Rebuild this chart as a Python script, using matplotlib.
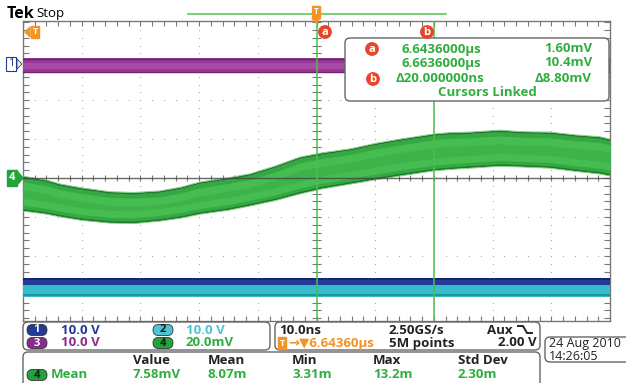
#!/usr/bin/env python3
import numpy as np
import matplotlib
matplotlib.use("Agg")
import matplotlib.pyplot as plt
from matplotlib.patches import FancyBboxPatch, Circle, Polygon
from matplotlib.collections import LineCollection

plt.rcParams['font.family'] = ['Open Sans', 'DejaVu Sans']

# channel 4 band, time in divisions, upper/lower edge in divisions
ch4_t = [-5.0, -4.6, -4.37, -4.0, -3.52, -3.1, -2.67, -2.3, -1.98, -1.5, -1.13, -0.7,
         -0.28, 0.1, 0.57, 1.0, 1.42, 1.99, 2.3, 2.61, 3.13, 3.5, 3.98, 4.4, 4.83, 5.0]
ch4_hi = [0.02, -0.08, -0.18, -0.28, -0.38, -0.40, -0.36, -0.26, -0.13, -0.02, 0.08, 0.28,
          0.51, 0.62, 0.72, 0.86, 0.97, 1.10, 1.14, 1.15, 1.20, 1.16, 1.15, 1.08, 1.03, 0.97]
ch4_lo = [-0.82, -0.90, -0.97, -1.06, -1.13, -1.14, -1.08, -1.00, -0.90, -0.80, -0.69, -0.55,
          -0.38, -0.25, -0.13, -0.02, 0.08, 0.21, 0.25, 0.28, 0.33, 0.31, 0.28, 0.20, 0.13, 0.08]

# flat channels: (lower, upper) in divisions
ch1_band = (2.69, 3.08)
ch_navy_band = (-2.74, -2.56)
ch_cyan_band = (-3.05, -2.74)

cursor_a = 0.0
cursor_b = 2.0

cursor_rows = [("6.6436000µs", "1.60mV"), ("6.6636000µs", "10.4mV"),
               ("Δ20.000000ns", "Δ8.80mV")]
meas_heads = ["Value", "Mean", "Min", "Max", "Std Dev"]
meas_vals = ["7.58mV", "8.07m", "3.31m", "13.2m", "2.30m"]
meas_x = [133, 208, 292, 373, 458]

GREEN = "#22a33c"
TXTGREEN = "#2fae3f"
ORANGE = "#f39323"
RED = "#e8452c"
NAVY = "#233a96"
CYAN = "#4fc3d6"
PURPLE = "#8c2b8f"
FS = 9.5


def graticule(ax):
    ax.set_xlim(-5, 5)
    ax.set_ylim(-3.67, 4.03)
    ax.set_xticks([])
    ax.set_yticks([])
    for s in ax.spines.values():
        s.set_color("#777777")
        s.set_linewidth(1.0)
    # dotted grid
    xs = np.arange(-5, 5.01, 0.2)
    ys = np.arange(-3.6, 4.01, 0.2)
    for gx in range(-4, 5):
        ax.scatter(np.full(len(ys), gx), ys, s=0.6, color="#9a9a9a", lw=0, zorder=1)
    for gy in range(-3, 4):
        ax.scatter(xs, np.full(len(xs), gy), s=0.6, color="#9a9a9a", lw=0, zorder=1)
    segs = []
    for x in xs:
        segs.append([(x, -0.08), (x, 0.08)])
        segs.append([(x, 4.03), (x, 3.9)])
        segs.append([(x, -3.67), (x, -3.54)])
    for y in ys:
        segs.append([(-0.07, y), (0.07, y)])
        segs.append([(-5, y), (-4.89, y)])
        segs.append([(5, y), (4.89, y)])
    ax.add_collection(LineCollection(segs, colors="#777777", linewidths=0.8, zorder=2))


def traces(ax):
    ax.fill_between([-5, 5], ch1_band[0], ch1_band[1], color="#963a96", lw=0, zorder=3)
    ax.fill_between([-5, 5], ch1_band[0] + 0.1, ch1_band[1] - 0.12, color="#a64aa6", lw=0, zorder=3)
    ax.plot([-5, 5], [ch1_band[1] - 0.03] * 2, color="#6e2270", lw=1.0, zorder=3)
    ax.plot([-5, 5], [ch1_band[0] + 0.03] * 2, color="#6e2270", lw=1.0, zorder=3)

    ax.fill_between([-5, 5], ch_navy_band[0], ch_navy_band[1], color=NAVY, lw=0, zorder=3)
    ax.fill_between([-5, 5], ch_cyan_band[0], ch_cyan_band[1], color="#35bccb", lw=0, zorder=3)
    ax.plot([-5, 5], [ch_cyan_band[0] + 0.04] * 2, color="#178a90", lw=1.1, zorder=3)
    ax.plot([-5, 5], [ch_navy_band[1] - 0.02] * 2, color="#14226b", lw=1.2, zorder=3)

    t = np.array(ch4_t)
    hi = np.array(ch4_hi)
    lo = np.array(ch4_lo)
    ax.fill_between(t, lo, hi, color="#35a844", lw=0, zorder=4)
    ax.fill_between(t, lo + 0.12, hi - 0.12, color="#46bd51", lw=0, zorder=4)
    ax.fill_between(t, lo + 0.3, hi - 0.32, color="#3db34a", lw=0, zorder=4)
    ax.plot(t, hi, color="#1f7a2e", lw=1.2, zorder=4)
    ax.plot(t, lo, color="#1f7a2e", lw=1.2, zorder=4)
    ax.plot(t, hi + 0.03, color="#7ccc7c", lw=0.6, zorder=4)
    ax.plot(t, lo - 0.03, color="#7ccc7c", lw=0.6, zorder=4)

    ax.axhline(0, color="#444444", lw=1.0, alpha=0.8, zorder=5)
    ax.axvline(cursor_a, color="#4cbf4c", lw=1.1, zorder=6)
    ax.axvline(cursor_b, color="#4cbf4c", lw=1.1, zorder=6)


def pill(ax, x, y, num, face, fg="white"):
    ax.add_patch(FancyBboxPatch((x - 10, y - 5.5), 20, 11,
                                boxstyle="round,pad=0,rounding_size=5.5",
                                fc=face, ec="#333333", lw=0.6, zorder=10))
    ax.text(x, y, num, ha="center", va="center", fontsize=8, fontweight="bold",
            color=fg, zorder=11)


def badge(ax, x, y, letter):
    ax.add_patch(Circle((x, y), 6.2, color=RED, zorder=10))
    ax.text(x, y + 0.5, letter, ha="center", va="center", fontsize=8, fontweight="bold",
            color="white", zorder=11)


def panel(ax, x0, y0, x1, y1):
    ax.add_patch(FancyBboxPatch((x0, y0), x1 - x0, y1 - y0,
                                boxstyle="round,pad=0,rounding_size=5",
                                fc="white", ec="#666666", lw=1.0, zorder=8))


def overlay(ax):
    ax.set_xlim(0, 626)
    ax.set_ylim(383, 0)
    ax.axis("off")

    ax.text(7, 14, "Tek", fontsize=11.5, fontweight="bold", color="black", va="center")
    ax.text(36, 14, "Stop", fontsize=9.5, color="black", va="center")
    ax.plot([188, 446], [14, 14], color="#5cc85c", lw=1.2)

    # trigger position marker
    ax.text(316, 12, "T", ha="center", va="center", fontsize=6, color="white", fontweight="bold",
            bbox=dict(boxstyle="square,pad=0.15", fc=ORANGE, ec=ORANGE), zorder=9)
    ax.add_patch(Polygon([(312, 18), (320, 18), (316, 23)], color=ORANGE, zorder=9))
    # trigger level marker
    ax.text(35, 32, "T", ha="center", va="center", fontsize=6.5, color="white", fontweight="bold",
            bbox=dict(boxstyle="square,pad=0.2", fc=ORANGE, ec=ORANGE), zorder=9)
    ax.add_patch(Polygon([(30, 27), (30, 37), (25, 32)], color=ORANGE, zorder=9))

    badge(ax, 325, 32, "a")
    badge(ax, 427, 32, "b")

    # channel markers
    ax.text(11, 64, "1", ha="center", va="center", fontsize=8, color=NAVY,
            bbox=dict(boxstyle="square,pad=0.15", fc="white", ec=NAVY, lw=0.8))
    ax.add_patch(Polygon([(17, 59), (17, 69), (22, 64)], fc="#fff6b0", ec=NAVY, lw=0.6))
    ax.text(12, 178, "4", ha="center", va="center", fontsize=8, color="white", fontweight="bold",
            bbox=dict(boxstyle="square,pad=0.2", fc=GREEN, ec=GREEN))
    ax.add_patch(Polygon([(18, 172), (18, 184), (23, 178)], color=GREEN))

    # cursor readout
    panel(ax, 345, 38, 609, 101)
    row_y = [49, 63, 79]
    for (left, right), y in zip(cursor_rows, row_y):
        xl = 396 if left.startswith("Δ") else 402
        ax.text(xl, y, left, fontsize=FS, fontweight="bold", color=TXTGREEN, va="center", zorder=9)
        ax.text(592, y, right, fontsize=FS, fontweight="bold", color=TXTGREEN, va="center",
                ha="right", zorder=9)
    badge(ax, 372, 49, "a")
    badge(ax, 373, 79, "b")
    ax.text(487, 93, "Cursors Linked", fontsize=FS, fontweight="bold", color=TXTGREEN,
            va="center", ha="center", zorder=9)

    # channel scale panel
    panel(ax, 23, 322, 270, 350)
    pill(ax, 37, 330, "1", NAVY)
    pill(ax, 37, 343, "3", PURPLE)
    pill(ax, 163, 330, "2", CYAN, fg="#1a1a1a")
    pill(ax, 163, 343, "4", GREEN, fg="#1a1a1a")
    kw = dict(fontsize=FS, fontweight="bold", va="center", zorder=9)
    ax.text(61, 330, "10.0 V", color=NAVY, **kw)
    ax.text(61, 343, "10.0 V", color=PURPLE, **kw)
    ax.text(186, 330, "10.0 V", color=CYAN, **kw)
    ax.text(186, 343, "20.0mV", color=TXTGREEN, **kw)

    # timebase panel
    panel(ax, 275, 322, 540, 350)
    kb = dict(fontsize=FS, fontweight="bold", va="center", color="#222222", zorder=9)
    ax.text(279, 330, "10.0ns", **kb)
    ax.text(389, 330, "2.50GS/s", **kb)
    ax.text(487, 330, "Aux", **kb)
    ax.plot([518, 523, 527, 532], [326, 326, 333, 333], color="#222222", lw=1.4, zorder=9)
    ax.text(389, 343, "5M points", **kb)
    ax.text(537, 343, "2.00 V", ha="right", **kb)
    ax.text(282, 343, "T", ha="center", va="center", fontsize=6.5, color="white",
            fontweight="bold", zorder=10,
            bbox=dict(boxstyle="square,pad=0.15", fc=ORANGE, ec=ORANGE))
    ax.text(288, 343, "→▼6.64360µs", fontsize=FS, fontweight="bold", color=ORANGE,
            va="center", zorder=9)

    # date panel
    panel(ax, 545, 337, 640, 362)
    ax.text(549, 344, "24 Aug 2010", fontsize=9, color="#222222", va="center", zorder=9)
    ax.text(549, 356, "14:26:05", fontsize=9, color="#222222", va="center", zorder=9)

    # measurement panel
    panel(ax, 23, 352, 540, 392)
    for x, h, v in zip(meas_x, meas_heads, meas_vals):
        ax.text(x, 360, h, fontsize=FS, fontweight="bold", color="#222222", va="center", zorder=9)
        ax.text(x, 375, v, fontsize=FS, fontweight="bold", color=TXTGREEN, va="center", zorder=9)
    pill(ax, 37, 375, "4", GREEN, fg="#1a1a1a")
    ax.text(51, 375, "Mean", fontsize=FS, fontweight="bold", color=TXTGREEN, va="center", zorder=9)


def main():
    W, H = 626, 383
    fig = plt.figure(figsize=(W / 100, H / 100), dpi=100)
    fig.patch.set_facecolor("white")
    ax = fig.add_axes([23 / W, (H - 321) / H, 587 / W, 300 / H])
    graticule(ax)
    traces(ax)
    top = fig.add_axes([0, 0, 1, 1])
    top.patch.set_alpha(0)
    overlay(top)
    fig.savefig("out.png", dpi=100)


if __name__ == '__main__':
    main()
